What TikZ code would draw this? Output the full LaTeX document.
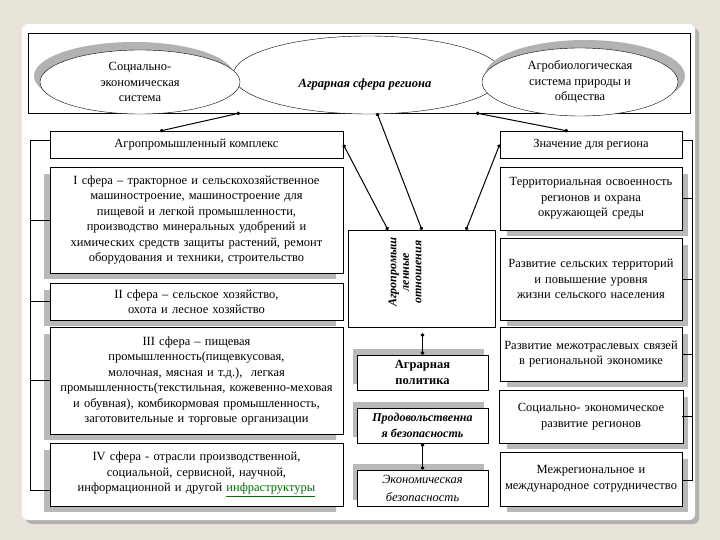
\documentclass[tikz,border=0pt]{standalone}
\usetikzlibrary{shapes.geometric,arrows.meta}
\usepackage{fontspec}
\setmainfont{Liberation Serif}
\definecolor{bgc}{HTML}{E8E4DA}
\begin{document}
\begin{tikzpicture}[x=1pt,y=-1pt,
 box/.style={draw=black,fill=white,line width=0.6pt,align=center,font=\fontsize{12.5}{15.5}\selectfont,inner sep=2pt},
 shl/.style={fill=gray!55},
 con/.style={line width=1pt,{Circle[length=3.5pt]}-{Circle[length=3.5pt]}},
 br/.style={line width=0.5pt}]
\useasboundingbox (0,0) rectangle (720,540);
\fill[bgc] (0,0) rectangle (720,540);
\fill[gray!60,rounded corners=6pt] (26,28) rectangle (699,524);
\fill[white,rounded corners=6pt] (22,24) rectangle (695,520);
% top frame
\node[draw,line width=0.6pt,minimum width=662,minimum height=80,inner sep=0] (top) at (359,73) {};
\node[draw,fill=white,ellipse,minimum width=270,minimum height=78,inner sep=0] (mid) at (368,75) {};
\fill[gray!60] (134,76) ellipse [x radius=100, y radius=34];
\node[draw,fill=white,ellipse,minimum width=200,minimum height=64,inner sep=0,align=center,font=\fontsize{12.5}{15.5}\selectfont] (se) at (140,82) {Социально-\\экономическая\\система};
\fill[gray!60] (585,76) ellipse [x radius=100, y radius=36];
\node[draw,fill=white,ellipse,minimum width=196,minimum height=68,inner sep=0,align=center,font=\fontsize{12.5}{15.5}\selectfont] (ab) at (580,82) {Агробиологическая\\система природы и\\общества};
\node[font=\fontsize{12.5}{15}\selectfont\bfseries\itshape] (asr) at (365,84) {Аграрная сфера региона};
% left column shadows
\fill[shl] (44,174) rectangle (336,279);
\fill[shl] (44,290) rectangle (336,326);
\fill[shl] (44,334) rectangle (336,440);
\fill[shl] (44,450) rectangle (336,512);
% right column shadows
\fill[shl] (507,174) rectangle (688,236);
\fill[shl] (507,245) rectangle (688,326);
\fill[shl] (507,334) rectangle (688,387);
\fill[shl] (507,397) rectangle (688,449);
\fill[shl] (507,459) rectangle (688,512);
% middle shadows
\fill[shl] (353,349) rectangle (484,384);
\fill[shl] (353,402) rectangle (484,437);
\fill[shl] (353,464) rectangle (484,500);
% boxes
\node[box,minimum width=293,minimum height=27] (apk) at (196.5,144.5) {Агропромышленный комплекс};
\node[box,minimum width=182,minimum height=27] (zr) at (591,144.5) {Значение для региона};
\node[box,minimum width=293,minimum height=106,text width=289,inner sep=1pt] (s1) at (196.5,220) {I сфера – тракторное и сельскохозяйственное машиностроение, машиностроение для пищевой и легкой промышленности, производство минеральных удобрений и химических средств защиты растений, ремонт оборудования и техники, строительство};
\node[box,minimum width=293,minimum height=37,text width=287] (s2) at (196.5,301.5) {II сфера – сельское хозяйство, охота и лесное хозяйство};
\node[box,minimum width=293,minimum height=107,text width=287,anchor=north,inner sep=3pt] (s3) at (196.5,327) {III сфера – пищевая промышленность(пищевкусовая, молочная, мясная и т.д.), \ легкая промышленность(текстильная, кожевенно-меховая и обувная), комбикормовая промышленность, заготовительные и торговые организации};
\node[box,minimum width=293,minimum height=63,text width=287] (s4) at (196.5,474.5) {IV сфера - отрасли производственной, социальной, сервисной, научной, информационной и другой {\color{green!45!black}\underline{инфраструктуры}}};
\node[box,minimum width=147,minimum height=97] (ao) at (421.5,278.5) {};
\node[rotate=90,align=center,font=\fontsize{12}{12.5}\selectfont\bfseries\itshape] (aot) at (405,272) {Агропромыш\\ленные\\отношения};
\node[box,minimum width=131,minimum height=35,font=\fontsize{12.5}{15.5}\selectfont\bfseries] (ap) at (422.5,372.5) {Аграрная\\политика};
\node[box,minimum width=131,minimum height=35,inner sep=0,font=\fontsize{12}{15.5}\selectfont\bfseries\itshape] (pb) at (422.5,425.5) {Продовольственна\\я безопасность};
\node[box,minimum width=131,minimum height=36,font=\fontsize{12.5}{18}\selectfont\itshape] (eb) at (422.5,488) {Экономическая\\безопасность};
\node[box,minimum width=182,minimum height=63,text width=176] (r1) at (591,198.5) {Территориальная освоенность регионов и охрана окружающей среды};
\node[box,minimum width=182,minimum height=82,text width=176] (r2) at (591,279) {Развитие сельских территорий и повышение уровня жизни сельского населения};
\node[box,minimum width=182,minimum height=54,text width=176] (r3) at (591,354) {Развитие межотраслевых связей в региональной экономике};
\node[box,minimum width=182,minimum height=53,text width=176,anchor=north,inner sep=4pt] (r4) at (591,390) {Социально- экономическое развитие регионов};
\node[box,minimum width=182,minimum height=54,text width=176] (r5) at (591,479) {Межрегиональное и международное сотрудничество};
% connectors
\coordinate (c1) at (240,113); \coordinate (c1b) at (160,131);
\draw[con] (c1) -- (c1b);
\draw[con] (apk.east) -- (388,230);
\draw[con] (377,113) -- (422,230);
\draw[con] (zr.west) -- (466,230);
\draw[con] (476,113) -- (568,131);
\draw[con] (ap.north |- ao.south) ++(0,6) -- (ap.north);
\draw[con] (pb.south) -- (eb.north);
% brackets
\draw[br] (50,140) -- (30,140) -- (30,490) -- (50,490);
\foreach \y in {220,301,380} \draw[br] (30,\y) -- (50,\y);
\draw[br] (682,140) -- (692,140) -- (692,480) -- (682,480);
\foreach \y in {198,279,354,416} \draw[br] (682,\y) -- (692,\y);
\end{tikzpicture}
\end{document}
